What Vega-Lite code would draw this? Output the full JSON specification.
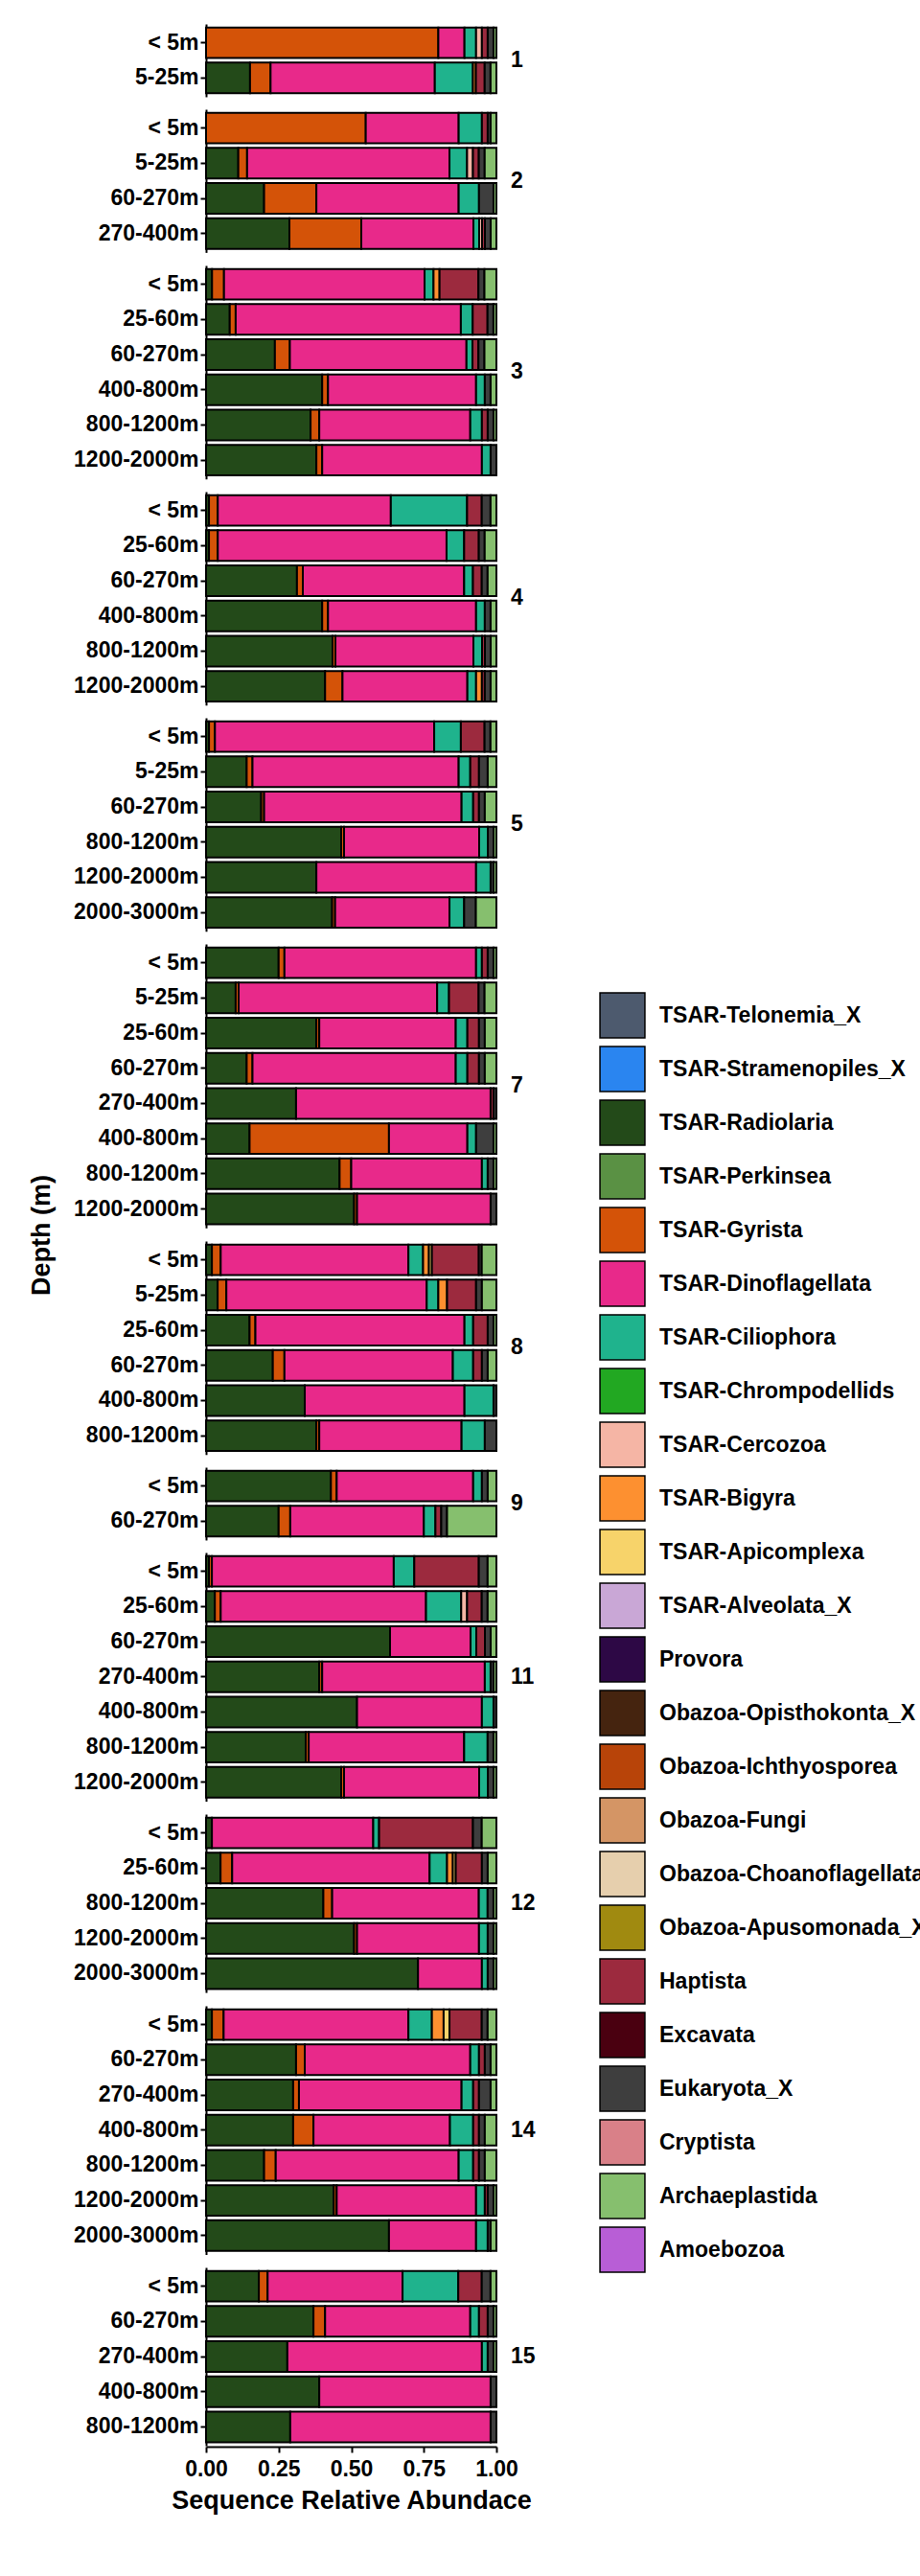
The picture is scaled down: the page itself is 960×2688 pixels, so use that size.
{
  "$schema": "https://vega.github.io/schema/vega-lite/v6.json",
  "background": "white",
  "padding": {"left": 30, "top": 25, "right": 5, "bottom": 5},
  "datasets": {
    "taxa": [
      {"k": "R", "name": "TSAR-Radiolaria", "o": 3},
      {"k": "G", "name": "TSAR-Gyrista", "o": 5},
      {"k": "D", "name": "TSAR-Dinoflagellata", "o": 6},
      {"k": "C", "name": "TSAR-Ciliophora", "o": 7},
      {"k": "Cr", "name": "TSAR-Cercozoa", "o": 9},
      {"k": "B", "name": "TSAR-Bigyra", "o": 10},
      {"k": "A", "name": "TSAR-Apicomplexa", "o": 11},
      {"k": "H", "name": "Haptista", "o": 19},
      {"k": "E", "name": "Eukaryota_X", "o": 21},
      {"k": "P", "name": "Archaeplastida", "o": 23}
    ]
  },
  "data": {
    "values": [
      {"s": 1, "d": "< 5m", "G": 0.80, "D": 0.09, "C": 0.04, "E": 0.02, "H": 0.02, "Cr": 0.02, "P": 0.01},
      {"s": 1, "d": "5-25m", "R": 0.15, "G": 0.07, "D": 0.56, "C": 0.13, "E": 0.02, "H": 0.03, "B": 0.01, "P": 0.02},
      {"s": 2, "d": "< 5m", "G": 0.55, "D": 0.32, "C": 0.08, "E": 0.01, "H": 0.02, "P": 0.02},
      {"s": 2, "d": "5-25m", "R": 0.11, "G": 0.03, "D": 0.69, "C": 0.06, "E": 0.02, "H": 0.02, "Cr": 0.02, "P": 0.04},
      {"s": 2, "d": "60-270m", "R": 0.20, "G": 0.18, "D": 0.49, "C": 0.07, "E": 0.05, "P": 0.01},
      {"s": 2, "d": "270-400m", "R": 0.29, "G": 0.25, "D": 0.39, "C": 0.02, "Cr": 0.01, "E": 0.02, "H": 0.01, "P": 0.02},
      {"s": 3, "d": "< 5m", "R": 0.02, "G": 0.04, "D": 0.67, "C": 0.03, "B": 0.02, "E": 0.02, "H": 0.13, "P": 0.04},
      {"s": 3, "d": "25-60m", "R": 0.08, "G": 0.02, "D": 0.76, "C": 0.04, "E": 0.02, "H": 0.05, "P": 0.01},
      {"s": 3, "d": "60-270m", "R": 0.23, "G": 0.05, "D": 0.59, "C": 0.02, "E": 0.02, "H": 0.02, "P": 0.04},
      {"s": 3, "d": "400-800m", "R": 0.40, "G": 0.02, "D": 0.51, "C": 0.03, "E": 0.02, "P": 0.02},
      {"s": 3, "d": "800-1200m", "R": 0.36, "G": 0.03, "D": 0.52, "C": 0.04, "E": 0.02, "H": 0.02, "P": 0.01},
      {"s": 3, "d": "1200-2000m", "R": 0.38, "G": 0.02, "D": 0.55, "C": 0.03, "E": 0.02},
      {"s": 4, "d": "< 5m", "R": 0.01, "G": 0.03, "D": 0.59, "C": 0.26, "E": 0.03, "H": 0.05, "P": 0.02},
      {"s": 4, "d": "25-60m", "R": 0.01, "G": 0.03, "D": 0.78, "C": 0.06, "E": 0.02, "H": 0.05, "P": 0.04},
      {"s": 4, "d": "60-270m", "R": 0.31, "G": 0.02, "D": 0.55, "C": 0.03, "E": 0.02, "H": 0.03, "P": 0.03},
      {"s": 4, "d": "400-800m", "R": 0.40, "G": 0.02, "D": 0.51, "C": 0.03, "E": 0.02, "P": 0.02},
      {"s": 4, "d": "800-1200m", "R": 0.44, "G": 0.01, "D": 0.48, "C": 0.03, "E": 0.02, "H": 0.01, "P": 0.02},
      {"s": 4, "d": "1200-2000m", "R": 0.41, "G": 0.06, "D": 0.43, "C": 0.03, "B": 0.02, "E": 0.02, "H": 0.01, "P": 0.02},
      {"s": 5, "d": "< 5m", "R": 0.01, "G": 0.02, "D": 0.74, "C": 0.09, "E": 0.02, "H": 0.08, "P": 0.02},
      {"s": 5, "d": "5-25m", "R": 0.14, "G": 0.02, "D": 0.71, "C": 0.04, "E": 0.03, "H": 0.03, "P": 0.03},
      {"s": 5, "d": "60-270m", "R": 0.19, "G": 0.01, "D": 0.68, "C": 0.04, "E": 0.02, "H": 0.02, "P": 0.04},
      {"s": 5, "d": "800-1200m", "R": 0.47, "G": 0.01, "D": 0.47, "C": 0.03, "E": 0.02, "P": 0.01},
      {"s": 5, "d": "1200-2000m", "R": 0.38, "D": 0.55, "C": 0.05, "E": 0.01, "P": 0.01},
      {"s": 5, "d": "2000-3000m", "R": 0.43, "G": 0.01, "D": 0.39, "C": 0.05, "E": 0.04, "P": 0.07},
      {"s": 7, "d": "< 5m", "R": 0.25, "G": 0.02, "D": 0.66, "C": 0.02, "E": 0.02, "H": 0.02, "P": 0.01},
      {"s": 7, "d": "5-25m", "R": 0.10, "G": 0.01, "D": 0.67, "C": 0.04, "E": 0.02, "H": 0.10, "P": 0.04},
      {"s": 7, "d": "25-60m", "R": 0.38, "G": 0.01, "D": 0.47, "C": 0.04, "E": 0.02, "H": 0.04, "P": 0.04},
      {"s": 7, "d": "60-270m", "R": 0.14, "G": 0.02, "D": 0.70, "C": 0.04, "E": 0.02, "H": 0.04, "P": 0.04},
      {"s": 7, "d": "270-400m", "R": 0.31, "D": 0.67, "E": 0.01, "H": 0.01},
      {"s": 7, "d": "400-800m", "R": 0.15, "G": 0.48, "D": 0.27, "C": 0.03, "E": 0.06, "P": 0.01},
      {"s": 7, "d": "800-1200m", "R": 0.46, "G": 0.04, "D": 0.45, "C": 0.02, "E": 0.02, "P": 0.01},
      {"s": 7, "d": "1200-2000m", "R": 0.51, "G": 0.01, "D": 0.46, "E": 0.02},
      {"s": 8, "d": "< 5m", "R": 0.02, "G": 0.03, "D": 0.64, "C": 0.05, "B": 0.02, "A": 0.01, "E": 0.01, "H": 0.16, "P": 0.05},
      {"s": 8, "d": "5-25m", "R": 0.04, "G": 0.03, "D": 0.69, "C": 0.04, "B": 0.03, "E": 0.02, "H": 0.10, "P": 0.05},
      {"s": 8, "d": "25-60m", "R": 0.15, "G": 0.02, "D": 0.72, "C": 0.03, "E": 0.02, "H": 0.05, "P": 0.01},
      {"s": 8, "d": "60-270m", "R": 0.23, "G": 0.04, "D": 0.58, "C": 0.07, "E": 0.02, "H": 0.03, "P": 0.03},
      {"s": 8, "d": "400-800m", "R": 0.34, "D": 0.55, "C": 0.10, "E": 0.01},
      {"s": 8, "d": "800-1200m", "R": 0.38, "G": 0.01, "D": 0.49, "C": 0.08, "E": 0.04},
      {"s": 9, "d": "< 5m", "R": 0.43, "G": 0.02, "D": 0.47, "C": 0.03, "E": 0.02, "P": 0.03},
      {"s": 9, "d": "60-270m", "R": 0.25, "G": 0.04, "D": 0.46, "C": 0.04, "E": 0.02, "H": 0.02, "P": 0.17},
      {"s": 11, "d": "< 5m", "R": 0.01, "G": 0.01, "D": 0.62, "C": 0.07, "E": 0.03, "H": 0.22, "P": 0.03},
      {"s": 11, "d": "25-60m", "R": 0.03, "G": 0.02, "D": 0.70, "C": 0.12, "E": 0.02, "H": 0.05, "Cr": 0.02, "P": 0.03},
      {"s": 11, "d": "60-270m", "R": 0.64, "D": 0.28, "C": 0.02, "E": 0.02, "H": 0.03, "P": 0.02},
      {"s": 11, "d": "270-400m", "R": 0.39, "G": 0.01, "D": 0.56, "C": 0.02, "E": 0.01, "P": 0.01},
      {"s": 11, "d": "400-800m", "R": 0.52, "D": 0.43, "C": 0.04, "E": 0.01},
      {"s": 11, "d": "800-1200m", "R": 0.34, "G": 0.01, "D": 0.53, "C": 0.08, "E": 0.02, "P": 0.01},
      {"s": 11, "d": "1200-2000m", "R": 0.47, "G": 0.01, "D": 0.47, "C": 0.03, "E": 0.02, "P": 0.01},
      {"s": 12, "d": "< 5m", "R": 0.02, "D": 0.55, "C": 0.02, "E": 0.03, "H": 0.32, "P": 0.05},
      {"s": 12, "d": "25-60m", "R": 0.05, "G": 0.04, "D": 0.68, "C": 0.06, "B": 0.02, "A": 0.01, "E": 0.02, "H": 0.09, "P": 0.03},
      {"s": 12, "d": "800-1200m", "R": 0.40, "G": 0.03, "D": 0.50, "C": 0.03, "E": 0.02, "P": 0.01},
      {"s": 12, "d": "1200-2000m", "R": 0.51, "G": 0.01, "D": 0.42, "C": 0.03, "E": 0.02, "P": 0.01},
      {"s": 12, "d": "2000-3000m", "R": 0.73, "D": 0.22, "C": 0.02, "E": 0.02, "P": 0.01},
      {"s": 14, "d": "< 5m", "R": 0.02, "G": 0.04, "D": 0.63, "C": 0.08, "A": 0.02, "B": 0.04, "E": 0.02, "H": 0.11, "P": 0.03},
      {"s": 14, "d": "60-270m", "R": 0.31, "G": 0.03, "D": 0.57, "C": 0.03, "E": 0.02, "H": 0.02, "P": 0.02},
      {"s": 14, "d": "270-400m", "R": 0.30, "G": 0.02, "D": 0.56, "C": 0.04, "E": 0.04, "H": 0.02, "P": 0.02},
      {"s": 14, "d": "400-800m", "R": 0.30, "G": 0.07, "D": 0.47, "C": 0.08, "E": 0.02, "H": 0.02, "P": 0.04},
      {"s": 14, "d": "800-1200m", "R": 0.20, "G": 0.04, "D": 0.63, "C": 0.05, "E": 0.02, "H": 0.02, "P": 0.04},
      {"s": 14, "d": "1200-2000m", "R": 0.44, "G": 0.01, "D": 0.48, "C": 0.03, "E": 0.02, "H": 0.01, "P": 0.01},
      {"s": 14, "d": "2000-3000m", "R": 0.63, "D": 0.30, "C": 0.04, "E": 0.01, "P": 0.02},
      {"s": 15, "d": "< 5m", "R": 0.18, "G": 0.03, "D": 0.46, "C": 0.19, "E": 0.03, "H": 0.08, "P": 0.02},
      {"s": 15, "d": "60-270m", "R": 0.37, "G": 0.04, "D": 0.50, "C": 0.03, "E": 0.02, "H": 0.03, "P": 0.01},
      {"s": 15, "d": "270-400m", "R": 0.28, "D": 0.67, "C": 0.02, "E": 0.02, "P": 0.01},
      {"s": 15, "d": "400-800m", "R": 0.39, "D": 0.59, "E": 0.02},
      {"s": 15, "d": "800-1200m", "R": 0.29, "D": 0.69, "E": 0.02}
    ]
  },
  "transform": [
    {"fold": ["R", "G", "D", "C", "Cr", "B", "A", "H", "E", "P"], "as": ["k", "v"]},
    {"filter": "isValid(datum.v) && datum.v > 0"},
    {"lookup": "k", "from": {"data": {"name": "taxa"}, "key": "k", "fields": ["name", "o"]}}
  ],
  "facet": {
    "row": {
      "field": "s",
      "type": "ordinal",
      "sort": "ascending",
      "title": "Depth (m)",
      "header": {
        "labelOrient": "right",
        "labelAngle": 0,
        "labelFont": "Liberation Sans",
        "labelFontSize": 23,
        "labelFontWeight": "bold",
        "labelPadding": 14,
        "titleOrient": "left",
        "titleFont": "Liberation Sans",
        "titleFontSize": 27,
        "titleFontWeight": "bold",
        "titlePadding": 8
      }
    }
  },
  "spacing": 13,
  "resolve": {"scale": {"y": "independent"}},
  "spec": {
    "width": 303,
    "height": {"step": 36.7},
    "mark": {"type": "bar", "stroke": "black", "strokeWidth": 2},
    "encoding": {
      "y": {
        "field": "d",
        "type": "nominal",
        "sort": ["< 5m", "5-25m", "25-60m", "60-270m", "270-400m", "400-800m", "800-1200m", "1200-2000m", "2000-3000m"],
        "scale": {"paddingInner": 0.13, "paddingOuter": 0.1},
        "axis": {"title": null, "labelFont": "Liberation Sans", "labelFontSize": 23, "labelFontWeight": "bold", "labelColor": "black", "domainColor": "black", "domainWidth": 2, "tickColor": "black", "tickWidth": 2, "tickSize": 6}
      },
      "x": {
        "field": "v",
        "type": "quantitative",
        "stack": "normalize",
        "scale": {"domain": [0, 1], "nice": false},
        "axis": {"title": "Sequence Relative Abundace", "values": [0, 0.25, 0.5, 0.75, 1], "labelExpr": "format(datum.value, '.2f')", "grid": false, "labelFont": "Liberation Sans", "labelFontSize": 23, "labelFontWeight": "bold", "labelColor": "black", "labelPadding": 6, "titleFont": "Liberation Sans", "titleFontSize": 27, "titleFontWeight": "bold", "titleColor": "black", "titlePadding": 8, "domainColor": "black", "domainWidth": 2, "tickColor": "black", "tickWidth": 2, "tickSize": 6}
      },
      "order": {"field": "o", "type": "quantitative", "sort": "ascending"},
      "color": {
        "field": "name",
        "type": "nominal",
        "title": null,
        "scale": {
          "domain": ["TSAR-Telonemia_X", "TSAR-Stramenopiles_X", "TSAR-Radiolaria", "TSAR-Perkinsea", "TSAR-Gyrista", "TSAR-Dinoflagellata", "TSAR-Ciliophora", "TSAR-Chrompodellids", "TSAR-Cercozoa", "TSAR-Bigyra", "TSAR-Apicomplexa", "TSAR-Alveolata_X", "Provora", "Obazoa-Opisthokonta_X", "Obazoa-Ichthyosporea", "Obazoa-Fungi", "Obazoa-Choanoflagellata", "Obazoa-Apusomonada_X", "Haptista", "Excavata", "Eukaryota_X", "Cryptista", "Archaeplastida", "Amoebozoa"],
          "range": ["#4d5a6e", "#2a85f0", "#234a19", "#5a9144", "#d45308", "#e8298a", "#1fb38d", "#22a822", "#f5b5a5", "#fd9030", "#f7d36a", "#c9a7d6", "#2d0845", "#45240f", "#b84409", "#d49565", "#e6cfad", "#a08a10", "#9c2a3e", "#4a0010", "#3e3e3e", "#d98088", "#86bf6e", "#b85ed6"]
        },
        "legend": {
          "orient": "none",
          "legendX": 410,
          "legendY": 1010,
          "symbolType": "square",
          "symbolSize": 2200,
          "symbolStrokeColor": "black",
          "symbolStrokeWidth": 1.5,
          "symbolOpacity": 1,
          "rowPadding": 3,
          "labelFont": "Liberation Sans",
          "labelFontSize": 23,
          "labelFontWeight": "bold",
          "labelColor": "black",
          "labelOffset": 14,
          "labelLimit": 400
        }
      }
    }
  },
  "config": {
    "view": {"stroke": null},
    "axisX": {"labelFlush": false}
  }
}
